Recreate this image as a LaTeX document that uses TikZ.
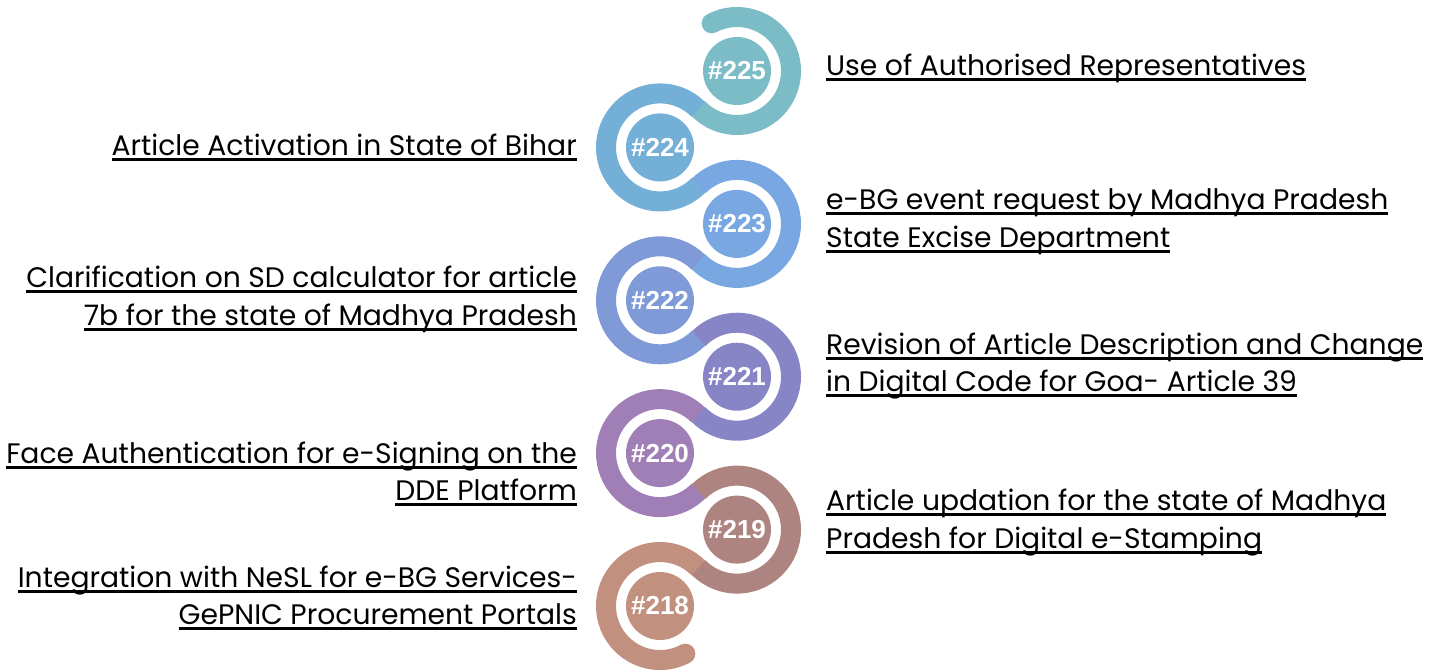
\documentclass[tikz,border=0pt]{standalone}
\usepackage{fontspec}
\setmainfont{Poppins}
\newfontfamily\numfont{Liberation Sans}
\usetikzlibrary{calc}
\definecolor{cA}{HTML}{7BBCC7}
\definecolor{cB}{HTML}{74AFD7}
\definecolor{cC}{HTML}{78A7E1}
\definecolor{cD}{HTML}{809AD8}
\definecolor{cE}{HTML}{8885C7}
\definecolor{cF}{HTML}{A07FB7}
\definecolor{cG}{HTML}{AE8480}
\definecolor{cH}{HTML}{C2907F}
\newsavebox\ulbx
\newcommand\ulline[1]{\sbox\ulbx{#1}\rlap{\rule[-5.5pt]{\wd\ulbx}{2.3pt}}\usebox\ulbx}
\tikzset{
  lab/.style={inner sep=0pt, font=\fontsize{28.2}{32}\selectfont, text=black},
  rl/.style={lab, anchor=base west},
  ll/.style={lab, anchor=base east},
  ring/.style={line width=20pt, line cap=butt},
  disk/.style={circle, minimum size=68pt, inner sep=0pt, text=white,
    font=\numfont\bfseries\fontsize{26}{28}\selectfont},
}
\begin{document}
\begin{tikzpicture}[x=1pt,y=-1pt]
\useasboundingbox (0,0) rectangle (1439,670);
% centres
\coordinate (c0) at (737,71);
\coordinate (c1) at (660,147.4);
\coordinate (c2) at (737,223.9);
\coordinate (c3) at (660,300.3);
\coordinate (c4) at (737,376.7);
\coordinate (c5) at (660,453.1);
\coordinate (c6) at (737,529.6);
\coordinate (c7) at (660,606);
% spiral band
\draw[ring, cA] ($(c0)+(118:54pt)$) arc[start angle=118, end angle=-136, radius=54pt];
\draw[ring, cB] ($(c1)+(45:54pt)$) arc[start angle=45, end angle=316, radius=54pt];
\draw[ring, cC] ($(c2)+(135:54pt)$) arc[start angle=135, end angle=-136, radius=54pt];
\draw[ring, cD] ($(c3)+(45:54pt)$) arc[start angle=45, end angle=316, radius=54pt];
\draw[ring, cE] ($(c4)+(135:54pt)$) arc[start angle=135, end angle=-136, radius=54pt];
\draw[ring, cF] ($(c5)+(45:54pt)$) arc[start angle=45, end angle=316, radius=54pt];
\draw[ring, cG] ($(c6)+(135:54pt)$) arc[start angle=135, end angle=-136, radius=54pt];
\draw[ring, cH] ($(c7)+(45:54pt)$) arc[start angle=45, end angle=298, radius=54pt];
\fill[cA] ($(c0)+(118:54pt)$) circle[radius=10pt];
\fill[cH] ($(c7)+(298:54pt)$) circle[radius=10pt];
% number disks
\node[disk, fill=cA] (n225) at (c0) {\#225};
\node[disk, fill=cB] (n224) at (c1) {\#224};
\node[disk, fill=cC] (n223) at (c2) {\#223};
\node[disk, fill=cD] (n222) at (c3) {\#222};
\node[disk, fill=cE] (n221) at (c4) {\#221};
\node[disk, fill=cF] (n220) at (c5) {\#220};
\node[disk, fill=cG] (n219) at (c6) {\#219};
\node[disk, fill=cH] (n218) at (c7) {\#218};
% right labels
\node[rl] (r0) at (826,75) {\ulline{Use of Authorised Representatives}};
\node[rl] (r2a) at (826,209) {\ulline{e-BG event request by Madhya Pradesh}};
\node[rl] (r2b) at (826,247) {\ulline{State Excise Department}};
\node[rl] (r4a) at (826,354) {\ulline{Revision of Article Description and Change}};
\node[rl] (r4b) at (826,391) {\ulline{in Digital Code for Goa- Article 39}};
\node[rl] (r6a) at (826,510) {\ulline{Article updation for the state of Madhya}};
\node[rl] (r6b) at (826,548) {\ulline{Pradesh for Digital e-Stamping}};
% left labels
\node[ll] (l1) at (577,155) {\ulline{Article Activation in State of Bihar}};
\node[ll] (l3a) at (577,287) {\ulline{Clarification on SD calculator for article}};
\node[ll] (l3b) at (577,325) {\ulline{7b for the state of Madhya Pradesh}};
\node[ll] (l5a) at (577,463) {\ulline{Face Authentication for e-Signing on the}};
\node[ll] (l5b) at (577,500) {\ulline{DDE Platform}};
\node[ll] (l7a) at (577,587) {\ulline{Integration with NeSL for e-BG Services-}};
\node[ll] (l7b) at (577,624) {\ulline{GePNIC Procurement Portals}};
\end{tikzpicture}
\end{document}
